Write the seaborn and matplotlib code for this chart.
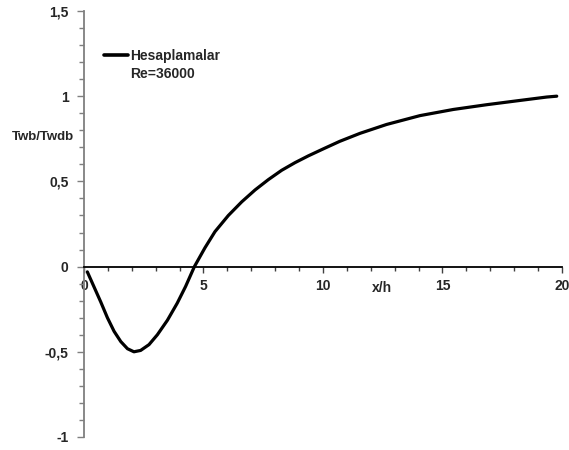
import matplotlib
matplotlib.use("Agg")
import matplotlib.pyplot as plt
from matplotlib.lines import Line2D
from matplotlib.ticker import MultipleLocator, FuncFormatter
import seaborn as sns
import pandas as pd

# Wall temperature ratio along the channel (computed profile)
x_h = [0.14, 0.42, 0.70, 0.98, 1.26, 1.54, 1.82, 2.09, 2.37, 2.72, 3.07, 3.49,
       3.90, 4.25, 4.62, 5.06, 5.48, 6.04, 6.60, 7.16, 7.71, 8.27, 8.83, 9.39,
       10.0, 10.7, 11.55, 12.66, 14.06, 15.45, 16.85, 18.24, 19.36, 19.78]
twb_twdb = [-0.031, -0.119, -0.207, -0.300, -0.380, -0.440, -0.482, -0.500,
            -0.492, -0.458, -0.400, -0.315, -0.215, -0.117, 0.0, 0.110, 0.205,
            0.300, 0.380, 0.450, 0.510, 0.565, 0.610, 0.650, 0.690, 0.735,
            0.782, 0.834, 0.886, 0.922, 0.950, 0.975, 0.995, 1.0]

series_label = "Hesaplamalar"
case_label = "Re=36000"
x_ticks = [0, 5, 10, 15, 20]
y_ticks = [-1, -0.5, 0, 0.5, 1, 1.5]

df = pd.DataFrame({"x/h": x_h, "Twb/Twdb": twb_twdb})

sns.set_style("white")
plt.rcParams["font.family"] = ["Liberation Sans", "DejaVu Sans"]

fig = plt.figure(figsize=(5.69, 4.5), dpi=100)
ax = fig.add_axes([0.1476, 0.0289, 0.8401, 0.9467])

sns.lineplot(data=df, x="x/h", y="Twb/Twdb", sort=False, color="black",
             linewidth=2.3, ax=ax, legend=False,
             solid_joinstyle="round", solid_capstyle="round")

ax.set_xlim(0, 20)
ax.set_ylim(-1, 1.5)

# Axis lines: horizontal axis through y = 0, gray vertical axis at x = 0
for s in ["top", "right"]:
    ax.spines[s].set_visible(False)
ax.spines["bottom"].set_position(("data", 0))
ax.spines["bottom"].set_color("black")
ax.spines["bottom"].set_linewidth(1.3)
ax.spines["left"].set_color("#7f7f7f")
ax.spines["left"].set_linewidth(1.3)

ax.xaxis.set_major_locator(MultipleLocator(5))
ax.xaxis.set_minor_locator(MultipleLocator(1))
ax.yaxis.set_major_locator(MultipleLocator(0.5))
ax.yaxis.set_minor_locator(MultipleLocator(0.1))

def comma_fmt(v, pos):
    s = f"{v:g}"
    return s.replace(".", ",")

ax.xaxis.set_major_formatter(FuncFormatter(comma_fmt))
ax.yaxis.set_major_formatter(FuncFormatter(comma_fmt))
ax.set_xticks(x_ticks)
ax.set_yticks(y_ticks)

ax.tick_params(axis="x", which="both", direction="out", bottom=True,
               color="#404040", width=1.0, labelsize=10, pad=5)
ax.tick_params(axis="x", which="major", length=4)
ax.tick_params(axis="x", which="minor", length=3)
ax.tick_params(axis="y", which="both", direction="out", left=True,
               color="#7f7f7f", width=1.0, labelsize=10, pad=6)
ax.tick_params(axis="y", which="major", length=5)
ax.tick_params(axis="y", which="minor", length=3.5)
for lab in ax.get_xticklabels() + ax.get_yticklabels():
    lab.set_fontweight("bold")

ax.set_xlabel("")
ax.set_ylabel("")
ax.text(12.45, -0.125, "x/h", fontsize=10, fontweight="bold",
        ha="center", va="center")
ax.text(-1.72, 0.76, "Twb/Twdb", fontsize=9.5, fontweight="bold",
        ha="center", va="center", clip_on=False)

handles = [Line2D([], [], color="black", linewidth=2.6),
           Line2D([], [], color="none")]
leg = ax.legend(handles, [series_label, case_label], loc="upper left",
                bbox_to_anchor=(0.015, 0.94), frameon=False,
                handlelength=1.75, handletextpad=0.15, labelspacing=0.25,
                prop={"weight": "bold", "size": 10})

fig.savefig("out.png", dpi=100)
